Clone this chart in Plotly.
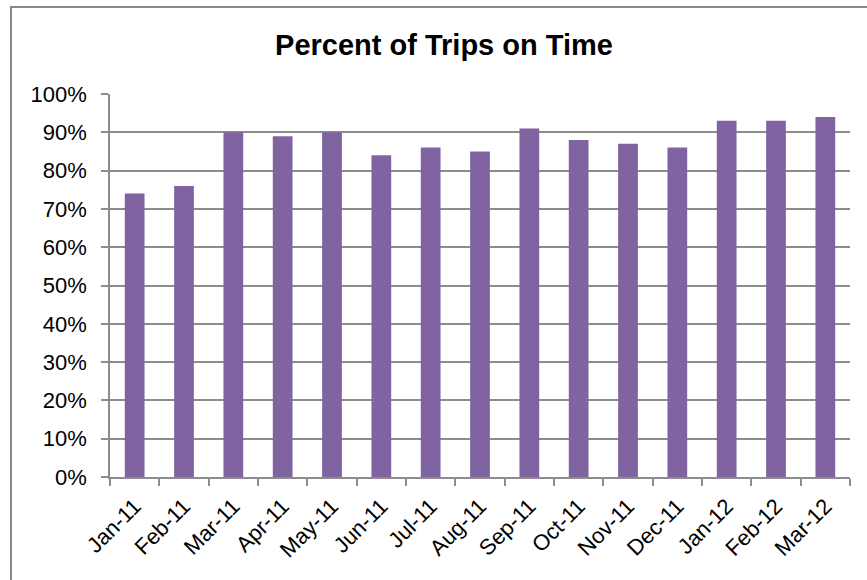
import plotly.graph_objects as go

# Monthly on-time performance
months = ["Jan-11", "Feb-11", "Mar-11", "Apr-11", "May-11", "Jun-11", "Jul-11",
          "Aug-11", "Sep-11", "Oct-11", "Nov-11", "Dec-11", "Jan-12", "Feb-12", "Mar-12"]
on_time_pct = [74, 76, 90, 89, 90, 84, 86, 85, 91, 88, 87, 86, 93, 93, 94]
y_ticks = list(range(0, 101, 10))
y_tick_labels = [f"{v}%" for v in y_ticks]

W, H = 867, 580
L, R, T, B = 110, 17, 94, 103
pw, ph = W - L - R, H - T - B

GRID = "#8c8c8c"
BAR = "#8064A2"
FONT = "Liberation Sans, Arial, sans-serif"

fig = go.Figure(
    go.Bar(
        x=months,
        y=on_time_pct,
        marker=dict(color=BAR, line=dict(width=0)),
        hovertemplate="%{x}: %{y}%<extra></extra>",
    )
)

# Outer chart frame, slightly inset at top/left and running off the page edge
def px_x(p):
    return (p - L) / pw

def px_y(p):
    return (H - B - p) / ph

fig.add_shape(
    type="rect", xref="paper", yref="paper",
    x0=px_x(11), x1=px_x(880), y0=px_y(590), y1=px_y(7),
    line=dict(color="#888888", width=2), fillcolor="rgba(0,0,0,0)", layer="below",
)

fig.update_layout(
    width=W, height=H,
    margin=dict(l=L, r=R, t=T, b=B),
    paper_bgcolor="white", plot_bgcolor="white",
    showlegend=False,
    bargap=0.6,
    font=dict(family=FONT, color="#000000", size=22),
    title=dict(
        text="<b>Percent of Trips on Time</b>",
        font=dict(family=FONT, size=29, color="#000000"),
        x=444 / W, xanchor="center", xref="container",
        y=1 - 45 / H, yanchor="middle", yref="container",
    ),
    xaxis=dict(
        type="category",
        tickangle=-45,
        tickson="boundaries",
        ticks="outside", ticklen=7, tickcolor=GRID, tickwidth=1.5,
        showline=True, linecolor=GRID, linewidth=1.5,
        showgrid=False,
        tickfont=dict(family=FONT, size=22, color="#000000"),
        ticklabelstandoff=6,
    ),
    yaxis=dict(
        range=[0, 100],
        tickmode="array",
        tickvals=y_ticks,
        ticktext=y_tick_labels,
        ticks="outside", ticklen=7, tickcolor=GRID, tickwidth=1.5,
        showline=True, linecolor=GRID, linewidth=1.5,
        showgrid=True, gridcolor=GRID, gridwidth=1.5,
        zeroline=False,
        tickfont=dict(family=FONT, size=22, color="#000000"),
        ticklabelstandoff=10,
    ),
)

fig.write_html("out.html")
